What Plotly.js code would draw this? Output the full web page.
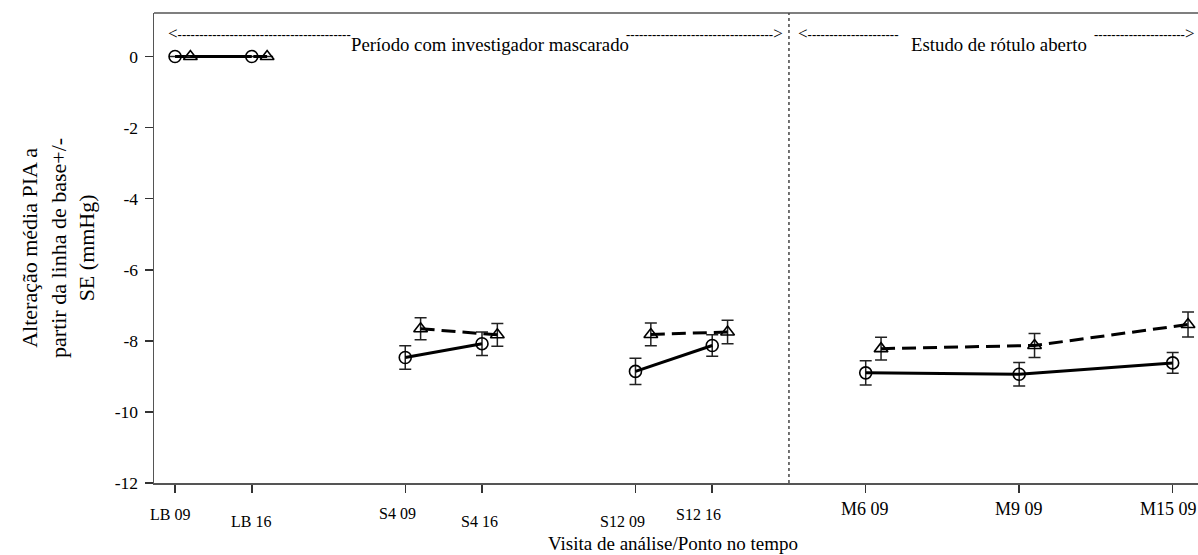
<!DOCTYPE html>
<html>
<head>
<meta charset="utf-8">
<script src="https://cdn.plot.ly/plotly-3.0.1.min.js"></script>
<style>
  html, body { margin: 0; padding: 0; background: #fff; }
  #chart { width: 1198px; height: 555px; }
</style>
</head>
<body>
<div id="chart"></div>
<script>
// ---------- data ----------
const visits = ['LB 09', 'LB 16', 'S4 09', 'S4 16', 'S12 09', 'S12 16', 'M6 09', 'M9 09', 'M15 09'];
const visitPos = [0, 1, 3, 4, 6, 7, 9, 11, 13];
const segment = ['LB', 'LB', 'S4', 'S4', 'S12', 'S12', 'M', 'M', 'M'];
const circleMean = [0, 0, -8.47, -8.08, -8.86, -8.13, -8.90, -8.94, -8.62];
const circleSE   = [0, 0, 0.33, 0.33, 0.37, 0.30, 0.34, 0.33, 0.29];
const triMean    = [0, 0, -7.66, -7.83, -7.82, -7.75, -8.22, -8.13, -7.54];
const triSE      = [0, 0, 0.31, 0.32, 0.32, 0.33, 0.32, 0.34, 0.35];
const yTickVals = [0, -2, -4, -6, -8, -10, -12];
const yTickText = ['0', '-2', '-4', '-6', '-8', '-10', '-12'];
const boundaryPos = 8;
const blindedLabel = 'Período com investigador mascarado';
const openLabel = 'Estudo de rótulo aberto';
const xTitle = 'Visita de análise/Ponto no tempo';
const yTitle = 'Alteração média PIA a<br>partir da linha de base+/-<br>SE (mmHg)';

// ---------- style ----------
const FONT = 'Liberation Serif, Times New Roman, serif';
const triOffset = 0.2;
const labelDx = [-5, -1, -8, -3, -13, -14, -1, 0, -4];
const labelDy = [31, 38, 30, 38, 38, 31, 26, 26, 26];
const labelSize = [16, 16, 16, 16, 16, 16, 18, 18, 18];

function build(mean, se, offset) {
  const x = [], y = [], e = [];
  for (let i = 0; i < mean.length; i++) {
    if (i > 0 && segment[i] !== segment[i - 1]) { x.push(null); y.push(null); e.push(null); }
    x.push(visitPos[i] + offset); y.push(mean[i]); e.push(se[i]);
  }
  return {x, y, e};
}

const c = build(circleMean, circleSE, 0);
const t = build(triMean, triSE, triOffset);

const traces = [
  {
    x: c.x, y: c.y, type: 'scatter', mode: 'lines+markers', connectgaps: false,
    line: {color: '#000', width: 3},
    marker: {symbol: 'circle-open', size: 12, color: '#000', line: {width: 1.6, color: '#000'}},
    error_y: {type: 'data', array: c.e, visible: true, color: '#222', thickness: 1.5, width: 6},
    cliponaxis: false, hoverinfo: 'skip'
  },
  {
    x: t.x, y: t.y, type: 'scatter', mode: 'lines+markers', connectgaps: false,
    line: {color: '#000', width: 3, dash: '14px,7px'},
    marker: {symbol: 'triangle-up-open', size: 12, color: '#000', line: {width: 1.6, color: '#000'}},
    error_y: {type: 'data', array: t.e, visible: true, color: '#222', thickness: 1.5, width: 6},
    cliponaxis: false, hoverinfo: 'skip'
  }
];

const annotations = [];
visits.forEach((v, i) => {
  annotations.push({
    text: v, xref: 'x', x: visitPos[i], yref: 'paper', y: 0,
    xanchor: 'center', yanchor: 'middle', xshift: labelDx[i], yshift: -labelDy[i],
    showarrow: false, font: {family: FONT, size: labelSize[i], color: '#000'}
  });
});
const dashes = n => '<b>' + '-'.repeat(n) + '</b>';
const arrowL = '<span style="font-size:17px">&lt;</span>';
const arrowR = '<span style="font-size:17px">&gt;</span>';
const dashFont = {family: FONT, size: 13, color: '#000'};
annotations.push(
  {text: arrowL + dashes(40), xref: 'x', x: -0.12, xanchor: 'left', yref: 'paper', y: 0.957, yanchor: 'middle',
   showarrow: false, font: dashFont},
  {text: dashes(34) + arrowR, xref: 'x', x: 7.95, xanchor: 'right', yref: 'paper', y: 0.957, yanchor: 'middle',
   showarrow: false, font: dashFont},
  {text: arrowL + dashes(21), xref: 'x', x: 8.09, xanchor: 'left', yref: 'paper', y: 0.957, yanchor: 'middle',
   showarrow: false, font: dashFont},
  {text: dashes(21) + arrowR, xref: 'x', x: 13.32, xanchor: 'right', yref: 'paper', y: 0.957, yanchor: 'middle',
   showarrow: false, font: dashFont},
  {text: blindedLabel, xref: 'x', x: 4.1, xanchor: 'center', yref: 'paper', y: 0.932, yanchor: 'middle',
   showarrow: false, font: {family: FONT, size: 18.8, color: '#000'}},
  {text: openLabel, xref: 'x', x: 10.74, xanchor: 'center', yref: 'paper', y: 0.932, yanchor: 'middle',
   showarrow: false, font: {family: FONT, size: 18.8, color: '#000'}},
  {text: xTitle, xref: 'paper', x: 0.497, xanchor: 'center', yref: 'paper', y: 0, yanchor: 'middle', yshift: -60,
   showarrow: false, font: {family: FONT, size: 19, color: '#000'}},
  {text: yTitle, xref: 'paper', x: -0.092, xanchor: 'center', yref: 'paper', y: 0.5, yanchor: 'middle',
   textangle: -90, showarrow: false, font: {family: FONT, size: 22, color: '#000'}}
);

const layout = {
  width: 1198, height: 555,
  margin: {l: 154, r: 0, t: 13, b: 72},
  paper_bgcolor: '#fff', plot_bgcolor: '#fff',
  showlegend: false,
  font: {family: FONT, color: '#000'},
  xaxis: {
    range: [-0.274, 13.33], showgrid: false, zeroline: false,
    showline: true, linecolor: '#555', linewidth: 1.5,
    tickmode: 'array', tickvals: visitPos, ticks: 'outside', ticklen: 8, tickwidth: 1.5, tickcolor: '#333',
    showticklabels: false
  },
  yaxis: {
    range: [-12, 1.225], showgrid: false, zeroline: false,
    showline: true, linecolor: '#555', linewidth: 1.5,
    tickmode: 'array', tickvals: yTickVals, ticktext: yTickText,
    ticks: 'outside', ticklen: 8, tickwidth: 1.5, tickcolor: '#333',
    tickfont: {family: FONT, size: 17.5, color: '#000'}, ticklabelstandoff: 3
  },
  shapes: [
    {type: 'line', xref: 'paper', yref: 'paper', x0: 0, x1: 1, y0: 1, y1: 1, line: {color: '#555', width: 1.5}},
    {type: 'line', xref: 'x', yref: 'paper', x0: boundaryPos, x1: boundaryPos, y0: 0, y1: 1,
     line: {color: '#444', width: 1.5, dash: 'dot'}}
  ],
  annotations: annotations
};

Plotly.newPlot('chart', traces, layout, {staticPlot: true, displayModeBar: false});
</script>
</body>
</html>
